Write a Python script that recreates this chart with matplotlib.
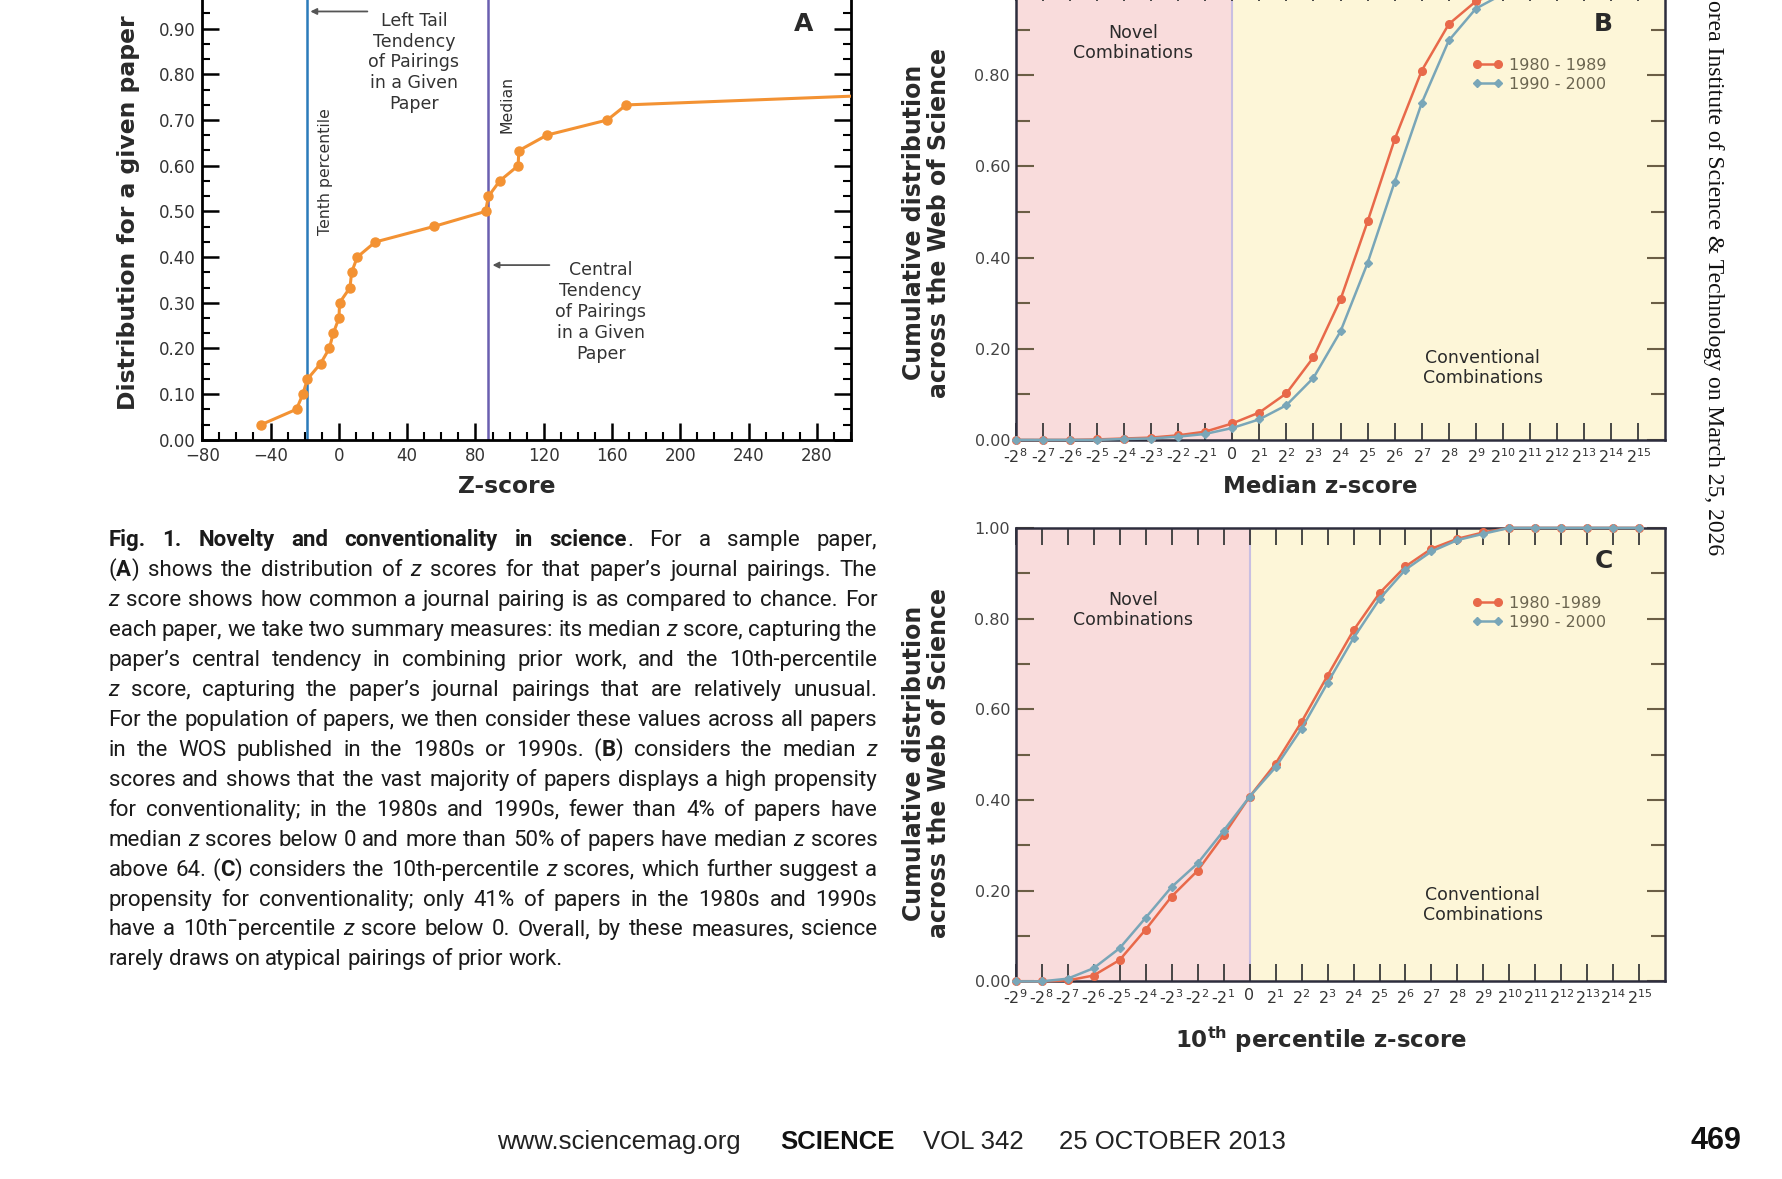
import numpy as np
import matplotlib
matplotlib.use("Agg")
import matplotlib.pyplot as plt
from matplotlib import font_manager
from matplotlib.ticker import MultipleLocator, FixedLocator, NullLocator, FormatStrFormatter


""" DATA """

# Panel A: z scores of one paper's journal pairings and their cumulative share
A_Z = [-45.7, -24.8, -21.1, -18.4, -10.7, -5.6, -3.3, 0.1, 0.4, 6.5, 7.5, 10.8,
       21.3, 55.6, 85.9, 87.6, 94.3, 105.0, 105.4, 121.9, 157.2, 168.3, 320.0]
A_CDF = [0.033, 0.067, 0.100, 0.133, 0.167, 0.200, 0.233, 0.267, 0.300, 0.333,
         0.367, 0.400, 0.433, 0.467, 0.500, 0.533, 0.567, 0.600, 0.633, 0.667,
         0.700, 0.733, 0.755]
A_TENTH = -18.5
A_MEDIAN = 87.2

# Panel B: median z-score
B_Z = [-256, -128, -64, -32, -16, -8, -4, -2, 0, 2, 4, 8, 16, 32, 64, 128, 256,
       512, 1024, 2048, 4096, 8192, 16384, 32768]
B_1980 = [0.0, 0.0, 0.0, 0.001, 0.003, 0.005, 0.010, 0.018, 0.036, 0.060, 0.102,
          0.181, 0.308, 0.479, 0.659, 0.810, 0.912, 0.962, 0.985, 0.994, 0.998,
          0.999, 1.0, 1.0]
B_1990 = [0.0, 0.0, 0.0, 0.0, 0.002, 0.003, 0.007, 0.013, 0.026, 0.045, 0.076,
          0.136, 0.238, 0.388, 0.566, 0.739, 0.876, 0.946, 0.978, 0.992, 0.997,
          0.999, 1.0, 1.0]

# Panel C: 10th percentile z-score
C_Z = [-512, -256, -128, -64, -32, -16, -8, -4, -2, 0, 2, 4, 8, 16, 32, 64, 128,
       256, 512, 1024, 2048, 4096, 8192, 16384, 32768]
C_1980 = [0.0, 0.0, 0.002, 0.013, 0.047, 0.114, 0.187, 0.244, 0.322, 0.407, 0.480,
          0.572, 0.674, 0.774, 0.856, 0.915, 0.954, 0.976, 0.990, 1.0, 1.0, 1.0,
          1.0, 1.0, 1.0]
C_1990 = [0.0, 0.0, 0.006, 0.029, 0.073, 0.140, 0.208, 0.260, 0.332, 0.407, 0.472,
          0.557, 0.658, 0.757, 0.843, 0.908, 0.948, 0.973, 0.987, 1.0, 1.0, 1.0,
          1.0, 1.0, 1.0]

LABEL_1980_B = "1980 - 1989"
LABEL_1980_C = "1980 -1989"
LABEL_1990 = "1990 - 2000"

CAPTION = [
    "*Fig. 1. Novelty and conventionality in science*. For a sample paper,",
    "(*A*) shows the distribution of _z_ scores for that paper\u2019s journal pairings. The",
    "_z_ score shows how common a journal pairing is as compared to chance. For",
    "each paper, we take two summary measures: its median _z_ score, capturing the",
    "paper\u2019s central tendency in combining prior work, and the 10th-percentile",
    "_z_ score, capturing the paper\u2019s journal pairings that are relatively unusual.",
    "For the population of papers, we then consider these values across all papers",
    "in the WOS published in the 1980s or 1990s. (*B*) considers the median _z_",
    "scores and shows that the vast majority of papers displays a high propensity",
    "for conventionality; in the 1980s and 1990s, fewer than 4% of papers have",
    "median _z_ scores below 0 and more than 50% of papers have median _z_ scores",
    "above 64. (*C*) considers the 10th-percentile _z_ scores, which further suggest a",
    "propensity for conventionality; only 41% of papers in the 1980s and 1990s",
    "have a 10th\u00afpercentile _z_ score below 0. Overall, by these measures, science",
    "rarely draws on atypical pairings of prior work.",
]

SIDE_TEXT = "orea Institute of Science & Technology on March 25, 2026"


""" STYLE """

RED = "#e8694a"
BLUE = "#79a6b8"
ORANGE = "#f39233"
PINK = "#f9dcdc"
CREAM = "#fdf6d8"
DARK = "#2a2a2a"


def pick_font(cands):
    names = {f.name for f in font_manager.fontManager.ttflist}
    for c in cands:
        if c in names:
            return c
    return "DejaVu Sans"


CAP_FONT = pick_font(["Roboto", "Liberation Sans", "DejaVu Sans"])
FOOT_FONT = pick_font(["Liberation Sans", "Noto Sans", "DejaVu Sans"])
SERIF_FONT = pick_font(["Liberation Serif", "DejaVu Serif"])


def fwd(z):
    z = np.asarray(z, dtype=float)
    return np.sign(z) * np.log2(np.maximum(np.abs(z), 1.0))


def inv(p):
    p = np.asarray(p, dtype=float)
    return np.sign(p) * 2.0 ** np.abs(p)


def pow_label(z):
    if z == 0:
        return "0"
    k = int(round(np.log2(abs(z))))
    return ("-$2^{%d}$" if z < 0 else "$2^{%d}$") % k


fig = plt.figure(figsize=(17.82, 11.79), dpi=100)


""" PANEL A """

axA = fig.add_axes([0.1135, 0.6269, 0.3641, 0.3876])
axA.set_xlim(-80, 300)
axA.set_ylim(0, 1.0)
axA.plot(A_Z, A_CDF, "-o", color=ORANGE, lw=2.2, ms=6.5, zorder=3)
axA.axvline(A_TENTH, color="#2b7bba", lw=1.8, zorder=2)
axA.axvline(A_MEDIAN, color="#6a5fb0", lw=1.8, zorder=2)

axA.xaxis.set_major_locator(FixedLocator(np.arange(-80, 281, 40)))
axA.xaxis.set_minor_locator(MultipleLocator(10))
axA.yaxis.set_major_locator(FixedLocator(np.arange(0, 0.95, 0.1)))
axA.yaxis.set_minor_locator(MultipleLocator(1 / 30))
axA.yaxis.set_major_formatter(FormatStrFormatter("%.2f"))
axA.tick_params(which="both", direction="in", right=True, top=False, colors="black",
                labelcolor="#333333", labelsize=12)
axA.tick_params(which="major", length=12, width=1.8, pad=5)
axA.tick_params(which="minor", length=6, width=1.5)
for s in axA.spines.values():
    s.set_linewidth(2)

axA.set_xlabel("Z-score", fontsize=16.8, weight="bold", color=DARK)
axA.xaxis.label.set_va("center")
axA.xaxis.set_label_coords(0.47, -0.1025)
axA.set_ylabel("Distribution for a given paper", fontsize=16.9, weight="bold", color=DARK)
axA.yaxis.label.set_va("center")
axA.yaxis.set_label_coords(-0.1144, 0.4975)

axA.text(-8, 0.5875, "Tenth percentile", rotation=90, ha="center", va="center",
         fontsize=11.3, color="#333333")
axA.text(98.7, 0.735, "Median", rotation=90, ha="center", va="center",
         fontsize=11.3, color="#333333")
axA.text(44, 0.826, "Left Tail\nTendency\nof Pairings\nin a Given\nPaper", ha="center",
         va="center", fontsize=12.5, color="#333333", linespacing=1.2)
axA.text(153.3, 0.28, "Central\nTendency\nof Pairings\nin a Given\nPaper", ha="center",
         va="center", fontsize=12.5, color="#333333", linespacing=1.2)
arrow = dict(arrowstyle="-|>", color="#555555", lw=1.3, mutation_scale=9,
             shrinkA=0, shrinkB=0)
axA.annotate("", xy=(-16.7, 0.9375), xytext=(16.7, 0.9375), arrowprops=arrow)
axA.annotate("", xy=(90, 0.3825), xytext=(123.3, 0.3825), arrowprops=arrow)
axA.text(272, 0.91, "A", ha="center", va="center", fontsize=18, weight="bold", color=DARK)


""" PANELS B AND C """


def cdf_panel(rect, zs, s80, s90, lab80, letter, xlabel, ylab_y, xlab_y, txt, yticks, leg_y):
    ax = fig.add_axes(rect)
    ax.set_xscale("function", functions=(fwd, inv))
    ax.set_xlim(zs[0], 2 ** 16)
    ax.set_ylim(0, 1.0)
    ax.axvspan(zs[0], 0, color=PINK, lw=0, zorder=0)
    ax.axvspan(0, 2 ** 16, color=CREAM, lw=0, zorder=0)
    ax.axvline(0, color="#c9bfe2", lw=1.5, zorder=1)
    ax.plot(zs, s80, "-o", color=RED, lw=1.8, ms=5.5, label=lab80, zorder=3, clip_on=False)
    ax.plot(zs, s90, "-D", color=BLUE, lw=1.8, ms=4, label=LABEL_1990, zorder=3, clip_on=False)

    ax.xaxis.set_major_locator(FixedLocator(zs))
    ax.set_xticklabels([pow_label(z) for z in zs])
    ax.xaxis.set_minor_locator(NullLocator())
    ax.yaxis.set_major_locator(FixedLocator(yticks))
    ax.yaxis.set_minor_locator(MultipleLocator(0.1))
    ax.yaxis.set_major_formatter(FormatStrFormatter("%.2f"))
    ax.tick_params(axis="x", which="major", direction="in", top=True, length=12,
                   width=1.3, color="#3a3a3a", labelsize=11.5, labelcolor="#333333", pad=5)
    ax.tick_params(axis="y", which="major", direction="in", right=True, length=13,
                   width=1.5, color="#6b5e45", labelsize=11.5, labelcolor="#444444", pad=4)
    ax.tick_params(axis="y", which="minor", direction="in", right=True, length=10,
                   width=1.5, color="#6b5e45")
    for s in ax.spines.values():
        s.set_linewidth(1.8)
        s.set_color("#2d2d3d")

    ax.set_xlabel(xlabel, fontsize=16.5, weight="bold", color=DARK)
    ax.xaxis.label.set_va("center")
    ax.xaxis.set_label_coords(0.469, xlab_y)
    ax.set_ylabel("Cumulative distribution\nacross the Web of Science", fontsize=17.0,
                  weight="bold", color=DARK, linespacing=1.08)
    ax.yaxis.label.set_va("center")
    ax.yaxis.set_label_coords(-0.137, ylab_y)

    ax.text(0.181, txt[0], "Novel\nCombinations", transform=ax.transAxes, ha="center",
            va="center", fontsize=12.5, color=DARK, linespacing=1.15)
    ax.text(0.719, txt[1], "Conventional\nCombinations", transform=ax.transAxes,
            ha="center", va="center", fontsize=12.5, color=DARK, linespacing=1.15)
    ax.text(0.905, txt[2], letter, transform=ax.transAxes, ha="center", va="center",
            fontsize=18, weight="bold", color=DARK)
    ax.legend(loc="upper left", bbox_to_anchor=(0.703, leg_y), frameon=False,
              fontsize=11.5, handlelength=1.9, handletextpad=0.4, labelspacing=0.25,
              borderpad=0, borderaxespad=0, numpoints=2, labelcolor="#6b6550")
    return ax


axB = cdf_panel([0.5699, 0.6269, 0.3647, 0.3867], B_Z, B_1980, B_1990, LABEL_1980_B,
                "B", "Median z-score", 0.476, -0.1028, (0.87, 0.158, 0.912),
                [0.0, 0.2, 0.4, 0.6, 0.8], 0.838)
axC = cdf_panel([0.5699, 0.1676, 0.3647, 0.3847], C_Z, C_1980, C_1990, LABEL_1980_C,
                "C", r"10$^{\mathbf{th}}$ percentile z-score", 0.481, -0.128,
                (0.819, 0.169, 0.927), [0.0, 0.2, 0.4, 0.6, 0.8, 1.0], 0.85)


""" CAPTION (justified) """

renderer = fig.canvas.get_renderer()
FIG_W = fig.bbox.width
FIG_H = fig.bbox.height


def parse(line):
    words, cur, buf = [], [], ""
    bold = ital = False
    for ch in line:
        if ch in "*_ ":
            if buf:
                cur.append((buf, bold, ital))
                buf = ""
            if ch == "*":
                bold = not bold
            elif ch == "_":
                ital = not ital
            elif cur:
                words.append(cur)
                cur = []
        else:
            buf += ch
    if buf:
        cur.append((buf, bold, ital))
    if cur:
        words.append(cur)
    return words


def make_text(x, y, s, fs, bold, ital, **kw):
    return fig.text(x, y, s, fontsize=fs, family=CAP_FONT,
                    weight="bold" if bold else "normal",
                    style="italic" if ital else "normal", **kw)


def width(s, fs, bold=False, ital=False):
    t = make_text(0, 0, s, fs, bold, ital)
    w = t.get_window_extent(renderer).width
    t.remove()
    return w / FIG_W


CAP_X0 = 0.0609
CAP_W = 0.4314
parsed = [parse(l) for l in CAPTION]

# size the caption so the tightest line still fits with slightly squeezed spaces
base_fs = 14.0
space = width("x x", base_fs) - width("xx", base_fs)
natural = []
for words in parsed:
    tot = sum(width(c, base_fs, b, i) for w in words for (c, b, i) in w)
    natural.append(tot + 0.75 * space * (len(words) - 1))
cap_fs = min(16.0, base_fs * CAP_W / max(natural))
space = width("x x", cap_fs) - width("xx", cap_fs)

for k, words in enumerate(parsed):
    y = 1 - (546 + k * 29.96) / FIG_H
    wlist = [[(c, b, i, width(c, cap_fs, b, i)) for (c, b, i) in w] for w in words]
    total = sum(p[3] for w in wlist for p in w)
    if k < len(parsed) - 1 and len(wlist) > 1:
        gap = (CAP_W - total) / (len(wlist) - 1)
    else:
        gap = space
    x = CAP_X0
    for w in wlist:
        for (c, b, i, wd) in w:
            make_text(x, y, c, cap_fs, b, i, ha="left", va="baseline", color="#1a1a1a")
            x += wd
        x += gap


""" FOOTER AND SIDE TEXT """

foot_y = 0.0252
foot_fs = 18.5
fig.text(0.2788, foot_y, "www.sciencemag.org", fontsize=foot_fs, family=FOOT_FONT,
         color="#222222", va="baseline")
fig.text(0.4378, foot_y, "SCIENCE", fontsize=foot_fs, family=FOOT_FONT, weight="bold",
         color="#111111", va="baseline")
fig.text(0.518, foot_y, "VOL 342", fontsize=foot_fs, family=FOOT_FONT, color="#222222",
         va="baseline")
fig.text(0.5942, foot_y, "25 OCTOBER 2013", fontsize=foot_fs, family=FOOT_FONT,
         color="#222222", va="baseline")
fig.text(0.977, foot_y, "469", fontsize=22, family=FOOT_FONT, weight="bold",
         color="#111111", ha="right", va="baseline")

t = fig.text(0, 0, SIDE_TEXT, fontsize=10, family=SERIF_FONT)
side_fs = 10 * 556 / t.get_window_extent(renderer).width
t.remove()
fig.text(0.9615, 1.0, SIDE_TEXT, rotation=270, ha="center", va="top",
         fontsize=side_fs, family=SERIF_FONT, color="#111111")

fig.savefig("out.png", dpi=100)
